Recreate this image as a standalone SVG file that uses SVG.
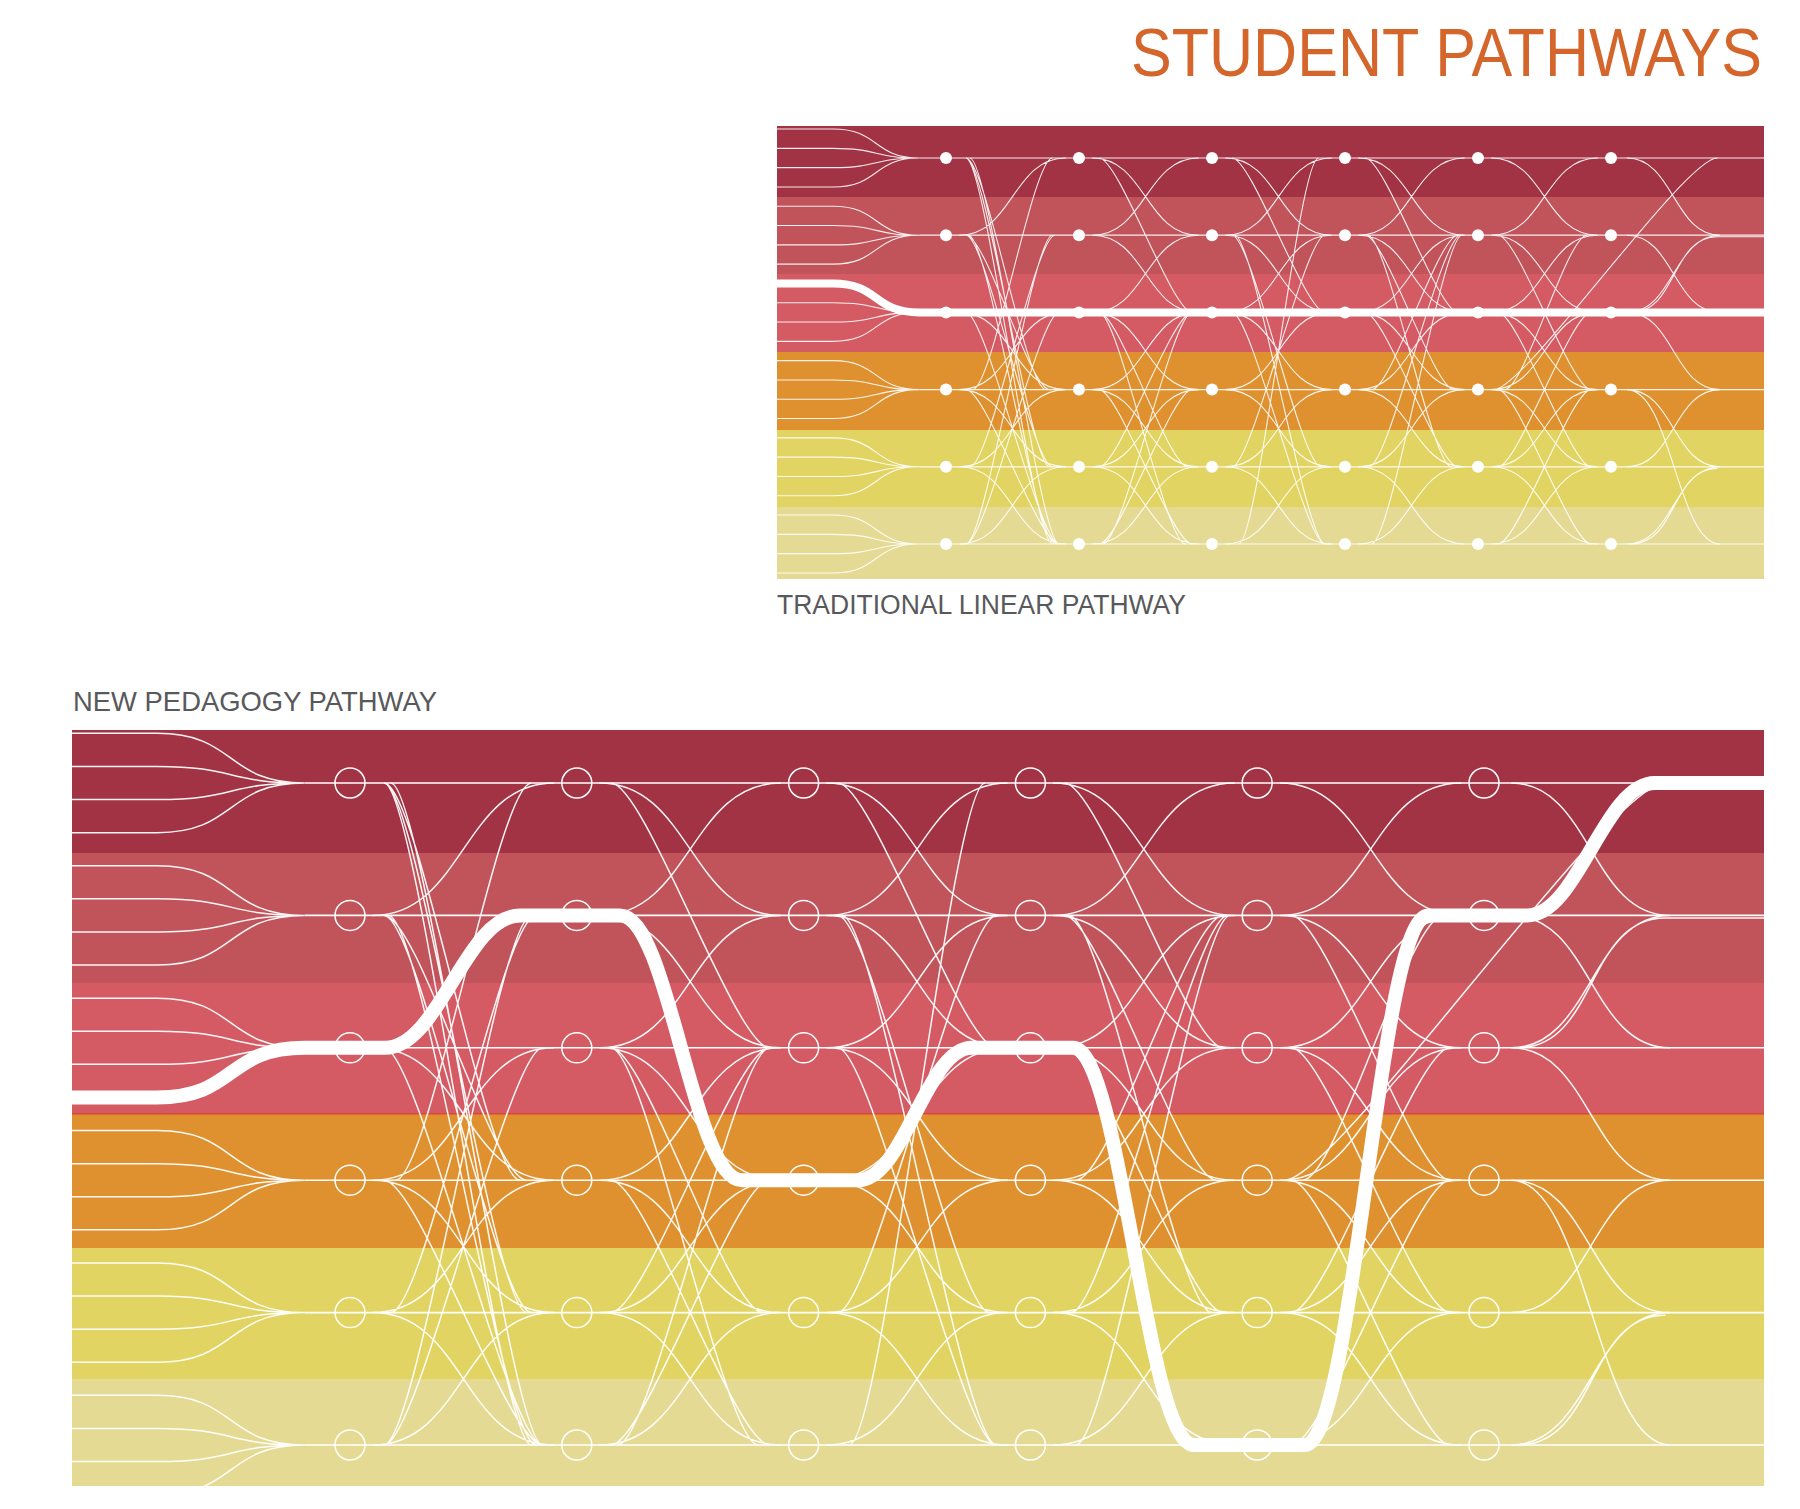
<svg xmlns="http://www.w3.org/2000/svg" width="1800" height="1509" viewBox="0 0 1800 1509">
<style>
.title{font-family:"Liberation Sans",Arial,sans-serif;fill:#D4652B}
.lbl{font-family:"Liberation Sans",Arial,sans-serif;fill:#58595B}
.b1{fill:#A23345}.b2{fill:#C1535B}.b3{fill:#D45B63}.b4{fill:#E0912F}.b5{fill:#E2D462}.b6{fill:#E5DA93}
.dot{fill:#fff}
.ring{fill:none;stroke:#fff;stroke-width:1.5}
.thick{fill:none;stroke:#fff;stroke-linecap:butt;stroke-linejoin:round}
.rowline{fill:none;stroke:#fff}
</style>
<defs>
<clipPath id="clipT"><rect x="777" y="126" width="987" height="453"/></clipPath>
<clipPath id="clipB"><rect x="72" y="730" width="1692" height="756"/></clipPath>
<g id="pat" fill="none">
<path vector-effect="non-scaling-stroke" d="M-1.4,-0.375H-0.85C-0.5,-0.375 -0.55,0 -0.2,0M-1.4,-0.125H-0.85C-0.5,-0.125 -0.55,0 -0.2,0M-1.4,0.125H-0.85C-0.5,0.125 -0.55,0 -0.2,0M-1.4,0.375H-0.85C-0.5,0.375 -0.55,0 -0.2,0M-1.4,0.625H-0.85C-0.5,0.625 -0.55,1 -0.2,1M-1.4,0.875H-0.85C-0.5,0.875 -0.55,1 -0.2,1M-1.4,1.125H-0.85C-0.5,1.125 -0.55,1 -0.2,1M-1.4,1.375H-0.85C-0.5,1.375 -0.55,1 -0.2,1M-1.4,1.625H-0.85C-0.5,1.625 -0.55,2 -0.2,2M-1.4,1.875H-0.85C-0.5,1.875 -0.55,2 -0.2,2M-1.4,2.125H-0.85C-0.5,2.125 -0.55,2 -0.2,2M-1.4,2.375H-0.85C-0.5,2.375 -0.55,2 -0.2,2M-1.4,2.625H-0.85C-0.5,2.625 -0.55,3 -0.2,3M-1.4,2.875H-0.85C-0.5,2.875 -0.55,3 -0.2,3M-1.4,3.125H-0.85C-0.5,3.125 -0.55,3 -0.2,3M-1.4,3.375H-0.85C-0.5,3.375 -0.55,3 -0.2,3M-1.4,3.625H-0.85C-0.5,3.625 -0.55,4 -0.2,4M-1.4,3.875H-0.85C-0.5,3.875 -0.55,4 -0.2,4M-1.4,4.125H-0.85C-0.5,4.125 -0.55,4 -0.2,4M-1.4,4.375H-0.85C-0.5,4.375 -0.55,4 -0.2,4M-1.4,4.625H-0.85C-0.5,4.625 -0.55,5 -0.2,5M-1.4,4.875H-0.85C-0.5,4.875 -0.55,5 -0.2,5M-1.4,5.125H-0.85C-0.5,5.125 -0.55,5 -0.2,5M-1.4,5.375H-0.85C-0.5,5.375 -0.55,5 -0.2,5"/>
<path vector-effect="non-scaling-stroke" d="M.1,1C.5,1 .5,0 .9,0M.1,2C.5,2 .5,3 .9,3M.1,3C.5,3 .5,2 .9,2M.1,3C.5,3 .5,4 .9,4M.1,4C.5,4 .5,3 .9,3M.1,4C.5,4 .5,5 .9,5M.1,5C.5,5 .5,4 .9,4M.15,0C.3,0 .6,3 .75,3M.15,0C.3,0 .63,4 .78,4M.15,0C.3,0 .65,5 .8,5M.18,0C.33,0 .7,5 .85,5M.15,1C.3,1 .63,3 .78,3M.15,1C.3,1 .65,4 .8,4M.17,1C.32,1 .67,5 .82,5M.15,2C.3,2 .7,5 .85,5M.2,3C.35,3 .65,0 .8,0M.18,4C.33,4 .67,1 .82,1M.15,5C.3,5 .65,1 .8,1M.15,5C.3,5 .7,2 .85,2M.15,3C.3,3 .7,5 .85,5"/>
<path vector-effect="non-scaling-stroke" d="M1.1,0C1.5,0 1.5,1 1.9,1M1.1,1C1.5,1 1.5,0 1.9,0M1.1,1C1.5,1 1.5,2 1.9,2M1.1,2C1.5,2 1.5,1 1.9,1M1.1,2C1.5,2 1.5,3 1.9,3M1.1,3C1.5,3 1.5,2 1.9,2M1.1,3C1.5,3 1.5,4 1.9,4M1.1,4C1.5,4 1.5,3 1.9,3M1.1,4C1.5,4 1.5,5 1.9,5M1.1,5C1.5,5 1.5,4 1.9,4M1.15,0C1.3,0 1.7,2 1.85,2M1.15,2C1.3,2 1.67,4 1.82,4M1.15,2C1.3,2 1.65,5 1.8,5M1.18,5C1.33,5 1.7,2 1.85,2M1.15,3C1.3,3 1.7,5 1.85,5M1.15,5C1.3,5 1.7,3 1.85,3M1.15,4C1.3,4 1.7,2 1.85,2"/>
<path vector-effect="non-scaling-stroke" d="M2.1,0C2.5,0 2.5,1 2.9,1M2.1,1C2.5,1 2.5,0 2.9,0M2.1,1C2.5,1 2.5,2 2.9,2M2.1,2C2.5,2 2.5,1 2.9,1M2.1,2C2.5,2 2.5,3 2.9,3M2.1,3C2.5,3 2.5,2 2.9,2M2.1,3C2.5,3 2.5,4 2.9,4M2.1,4C2.5,4 2.5,3 2.9,3M2.1,4C2.5,4 2.5,5 2.9,5M2.1,5C2.5,5 2.5,4 2.9,4M2.15,1C2.3,1 2.67,4 2.82,4M2.17,1C2.32,1 2.7,5 2.85,5M2.2,5C2.35,5 2.65,0 2.8,0M2.15,4C2.3,4 2.7,1 2.85,1M2.15,2C2.3,2 2.7,5 2.85,5M2.15,0C2.3,0 2.7,2 2.85,2"/>
<path vector-effect="non-scaling-stroke" d="M3.1,0C3.5,0 3.5,1 3.9,1M3.1,1C3.5,1 3.5,0 3.9,0M3.1,1C3.5,1 3.5,2 3.9,2M3.1,2C3.5,2 3.5,1 3.9,1M3.1,2C3.5,2 3.5,3 3.9,3M3.1,3C3.5,3 3.5,2 3.9,2M3.1,3C3.5,3 3.5,4 3.9,4M3.1,4C3.5,4 3.5,3 3.9,3M3.1,4C3.5,4 3.5,5 3.9,5M3.1,5C3.5,5 3.5,4 3.9,4M3.15,1C3.3,1 3.67,3 3.82,3M3.17,1C3.32,1 3.65,4 3.8,4M3.2,3C3.35,3 3.7,1 3.85,1M3.18,4C3.33,4 3.72,1 3.87,1M3.2,5C3.35,5 3.73,1 3.88,1M3.15,2C3.3,2 3.7,4 3.85,4M3.15,0C3.3,0 3.7,2 3.85,2"/>
<path vector-effect="non-scaling-stroke" d="M4.1,0C4.5,0 4.5,1 4.9,1M4.1,1C4.5,1 4.5,0 4.9,0M4.1,1C4.5,1 4.5,2 4.9,2M4.1,2C4.5,2 4.5,1 4.9,1M4.1,2C4.5,2 4.5,3 4.9,3M4.1,3C4.5,3 4.5,2 4.9,2M4.1,3C4.5,3 4.5,4 4.9,4M4.1,4C4.5,4 4.5,3 4.9,3M4.1,4C4.5,4 4.5,5 4.9,5M4.1,5C4.5,5 4.5,4 4.9,4M4.15,1C4.3,1 4.7,3 4.85,3M4.15,3C4.3,3 4.7,5 4.85,5M4.15,5C4.3,5 4.7,3 4.85,3M4.15,2C4.3,2 4.7,4 4.85,4M4.2,3C4.35,3 4.67,1 4.82,1M4.15,4C4.3,4 4.7,2 4.85,2M4.12,3C4.35,3 5.55,0 5.8,0"/>
<path vector-effect="non-scaling-stroke" d="M5.12,0C5.47,0 5.47,1 5.82,1M5.12,1C5.47,1 5.47,2 5.82,2M5.12,2C5.47,2 5.47,1 5.82,1M5.15,2C5.5,2 5.45,1.02 5.8,1.02H6.5M5.12,2C5.47,2 5.47,3 5.82,3M5.12,3C5.47,3 5.47,4 5.82,4M5.12,4C5.47,4 5.47,3 5.82,3M5.12,5C5.47,5 5.47,4 5.82,4M5.15,5C5.5,5 5.45,4.02 5.8,4.02M5.12,3C5.45,3 5.5,5 5.82,5"/>
</g>
</defs>
<rect width="1800" height="1509" fill="#fff"/>
<text class="title" transform="translate(1131 76) scale(1 1.12)" font-size="62" textLength="631" lengthAdjust="spacingAndGlyphs">STUDENT PATHWAYS</text>
<g id="top-bands">
<rect class="b1" x="777" y="126" width="987" height="71"/>
<rect class="b2" x="777" y="197" width="987" height="77"/>
<rect class="b3" x="777" y="274" width="987" height="78"/>
<rect class="b4" x="777" y="352" width="987" height="78"/>
<rect class="b5" x="777" y="430" width="987" height="77"/>
<rect class="b6" x="777" y="507" width="987" height="72"/>
</g>
<text class="lbl" x="777" y="614" font-size="27" textLength="409" lengthAdjust="spacingAndGlyphs">TRADITIONAL LINEAR PATHWAY</text>
<text class="lbl" x="73" y="711" font-size="28" textLength="364" lengthAdjust="spacingAndGlyphs">NEW PEDAGOGY PATHWAY</text>
<g id="bottom-bands">
<rect class="b1" x="72" y="730" width="1692" height="123"/>
<rect class="b2" x="72" y="853" width="1692" height="130"/>
<rect class="b3" x="72" y="983" width="1692" height="131"/>
<rect class="b4" x="72" y="1114" width="1692" height="134"/>
<rect class="b5" x="72" y="1248" width="1692" height="131"/>
<rect class="b6" x="72" y="1379" width="1692" height="107"/>
<rect x="72" y="1113" width="1692" height="1.5" fill="#D8463C"/>
</g>
<g id="connectors">
<g clip-path="url(#clipT)"><use href="#pat" transform="translate(946 158) scale(133 77.2)" stroke="#fff" stroke-opacity="0.9" stroke-width="1.1"/></g>
<path class="rowline" stroke-width="1.2" stroke-opacity="0.9" d="M919.4,158H1764M919.4,235.2H1764M919.4,389.6H1764M919.4,466.8H1764M919.4,544H1764"/>
<path class="thick" stroke-width="8" d="M777,283.5H833C879.5,283.5 872.9,312.4 919.4,312.4H1764"/>
<g clip-path="url(#clipB)"><use href="#pat" transform="translate(350 783) scale(226.8 132.4)" stroke="#fff" stroke-opacity="0.95" stroke-width="1.5"/></g>
<path class="rowline" stroke-width="1.6" d="M304.6,783H1764M304.6,915.4H1764M304.6,1047.8H1764M304.6,1180.2H1764M304.6,1312.6H1764M304.6,1445H1764"/>
<path class="thick" stroke-width="14" d="M72,1097.5H157C237,1097.5 225,1047.8 305,1047.8H385C439,1047.8 466,915.4 520,915.4H620C669,915.4 693,1180.2 742,1180.2H858C904,1180.2 926,1047.8 972,1047.8H1073C1121,1047.8 1146,1445 1194,1445H1305C1354,1445 1379,915.4 1428,915.4H1527C1578,915.4 1604,783 1655,783H1764"/>
</g>
<g id="top-nodes">
<g id="t-r1-c1"><circle class="dot" cx="946" cy="158" r="6"/></g><g id="t-r1-c2"><circle class="dot" cx="1079" cy="158" r="6"/></g><g id="t-r1-c3"><circle class="dot" cx="1212" cy="158" r="6"/></g><g id="t-r1-c4"><circle class="dot" cx="1345" cy="158" r="6"/></g><g id="t-r1-c5"><circle class="dot" cx="1478" cy="158" r="6"/></g><g id="t-r1-c6"><circle class="dot" cx="1611" cy="158" r="6"/></g>
<g id="t-r2-c1"><circle class="dot" cx="946" cy="235.2" r="6"/></g><g id="t-r2-c2"><circle class="dot" cx="1079" cy="235.2" r="6"/></g><g id="t-r2-c3"><circle class="dot" cx="1212" cy="235.2" r="6"/></g><g id="t-r2-c4"><circle class="dot" cx="1345" cy="235.2" r="6"/></g><g id="t-r2-c5"><circle class="dot" cx="1478" cy="235.2" r="6"/></g><g id="t-r2-c6"><circle class="dot" cx="1611" cy="235.2" r="6"/></g>
<g id="t-r3-c1"><circle class="dot" cx="946" cy="312.4" r="6"/></g><g id="t-r3-c2"><circle class="dot" cx="1079" cy="312.4" r="6"/></g><g id="t-r3-c3"><circle class="dot" cx="1212" cy="312.4" r="6"/></g><g id="t-r3-c4"><circle class="dot" cx="1345" cy="312.4" r="6"/></g><g id="t-r3-c5"><circle class="dot" cx="1478" cy="312.4" r="6"/></g><g id="t-r3-c6"><circle class="dot" cx="1611" cy="312.4" r="6"/></g>
<g id="t-r4-c1"><circle class="dot" cx="946" cy="389.6" r="6"/></g><g id="t-r4-c2"><circle class="dot" cx="1079" cy="389.6" r="6"/></g><g id="t-r4-c3"><circle class="dot" cx="1212" cy="389.6" r="6"/></g><g id="t-r4-c4"><circle class="dot" cx="1345" cy="389.6" r="6"/></g><g id="t-r4-c5"><circle class="dot" cx="1478" cy="389.6" r="6"/></g><g id="t-r4-c6"><circle class="dot" cx="1611" cy="389.6" r="6"/></g>
<g id="t-r5-c1"><circle class="dot" cx="946" cy="466.8" r="6"/></g><g id="t-r5-c2"><circle class="dot" cx="1079" cy="466.8" r="6"/></g><g id="t-r5-c3"><circle class="dot" cx="1212" cy="466.8" r="6"/></g><g id="t-r5-c4"><circle class="dot" cx="1345" cy="466.8" r="6"/></g><g id="t-r5-c5"><circle class="dot" cx="1478" cy="466.8" r="6"/></g><g id="t-r5-c6"><circle class="dot" cx="1611" cy="466.8" r="6"/></g>
<g id="t-r6-c1"><circle class="dot" cx="946" cy="544" r="6"/></g><g id="t-r6-c2"><circle class="dot" cx="1079" cy="544" r="6"/></g><g id="t-r6-c3"><circle class="dot" cx="1212" cy="544" r="6"/></g><g id="t-r6-c4"><circle class="dot" cx="1345" cy="544" r="6"/></g><g id="t-r6-c5"><circle class="dot" cx="1478" cy="544" r="6"/></g><g id="t-r6-c6"><circle class="dot" cx="1611" cy="544" r="6"/></g>
</g>
<g id="bottom-nodes">
<g id="b-r1-c1"><circle class="ring" cx="350" cy="783" r="15"/></g><g id="b-r1-c2"><circle class="ring" cx="576.8" cy="783" r="15"/></g><g id="b-r1-c3"><circle class="ring" cx="803.6" cy="783" r="15"/></g><g id="b-r1-c4"><circle class="ring" cx="1030.4" cy="783" r="15"/></g><g id="b-r1-c5"><circle class="ring" cx="1257.2" cy="783" r="15"/></g><g id="b-r1-c6"><circle class="ring" cx="1484" cy="783" r="15"/></g>
<g id="b-r2-c1"><circle class="ring" cx="350" cy="915.4" r="15"/></g><g id="b-r2-c2"><circle class="ring" cx="576.8" cy="915.4" r="15"/></g><g id="b-r2-c3"><circle class="ring" cx="803.6" cy="915.4" r="15"/></g><g id="b-r2-c4"><circle class="ring" cx="1030.4" cy="915.4" r="15"/></g><g id="b-r2-c5"><circle class="ring" cx="1257.2" cy="915.4" r="15"/></g><g id="b-r2-c6"><circle class="ring" cx="1484" cy="915.4" r="15"/></g>
<g id="b-r3-c1"><circle class="ring" cx="350" cy="1047.8" r="15"/></g><g id="b-r3-c2"><circle class="ring" cx="576.8" cy="1047.8" r="15"/></g><g id="b-r3-c3"><circle class="ring" cx="803.6" cy="1047.8" r="15"/></g><g id="b-r3-c4"><circle class="ring" cx="1030.4" cy="1047.8" r="15"/></g><g id="b-r3-c5"><circle class="ring" cx="1257.2" cy="1047.8" r="15"/></g><g id="b-r3-c6"><circle class="ring" cx="1484" cy="1047.8" r="15"/></g>
<g id="b-r4-c1"><circle class="ring" cx="350" cy="1180.2" r="15"/></g><g id="b-r4-c2"><circle class="ring" cx="576.8" cy="1180.2" r="15"/></g><g id="b-r4-c3"><circle class="ring" cx="803.6" cy="1180.2" r="15"/></g><g id="b-r4-c4"><circle class="ring" cx="1030.4" cy="1180.2" r="15"/></g><g id="b-r4-c5"><circle class="ring" cx="1257.2" cy="1180.2" r="15"/></g><g id="b-r4-c6"><circle class="ring" cx="1484" cy="1180.2" r="15"/></g>
<g id="b-r5-c1"><circle class="ring" cx="350" cy="1312.6" r="15"/></g><g id="b-r5-c2"><circle class="ring" cx="576.8" cy="1312.6" r="15"/></g><g id="b-r5-c3"><circle class="ring" cx="803.6" cy="1312.6" r="15"/></g><g id="b-r5-c4"><circle class="ring" cx="1030.4" cy="1312.6" r="15"/></g><g id="b-r5-c5"><circle class="ring" cx="1257.2" cy="1312.6" r="15"/></g><g id="b-r5-c6"><circle class="ring" cx="1484" cy="1312.6" r="15"/></g>
<g id="b-r6-c1"><circle class="ring" cx="350" cy="1445" r="15"/></g><g id="b-r6-c2"><circle class="ring" cx="576.8" cy="1445" r="15"/></g><g id="b-r6-c3"><circle class="ring" cx="803.6" cy="1445" r="15"/></g><g id="b-r6-c4"><circle class="ring" cx="1030.4" cy="1445" r="15"/></g><g id="b-r6-c5"><circle class="ring" cx="1257.2" cy="1445" r="15"/></g><g id="b-r6-c6"><circle class="ring" cx="1484" cy="1445" r="15"/></g>
</g>
</svg>
